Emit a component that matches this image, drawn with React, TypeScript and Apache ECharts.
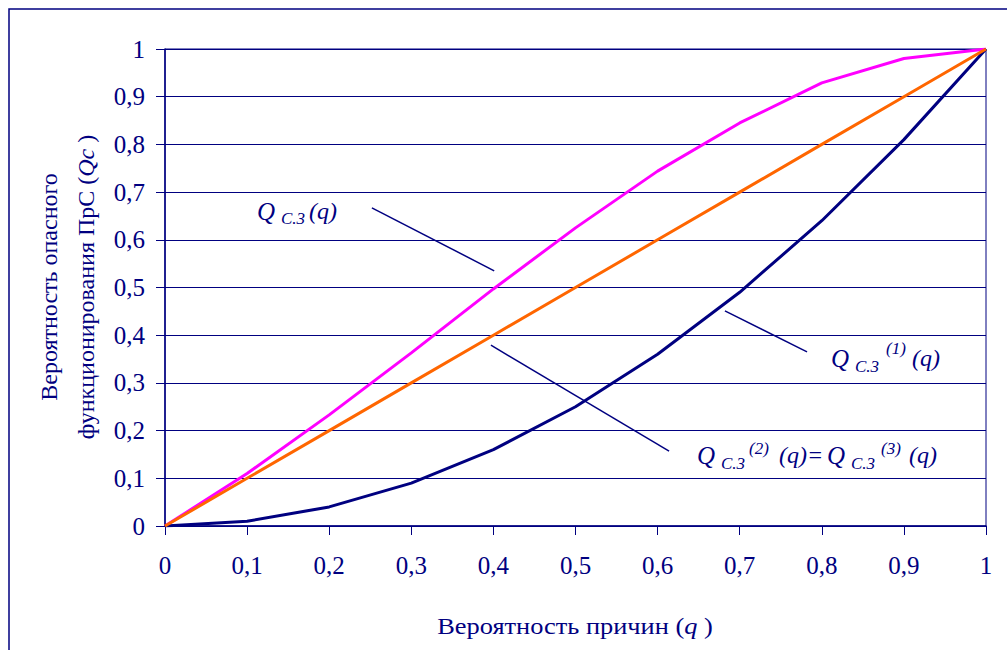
import React, { useEffect, useRef } from "react";
import * as echarts from "echarts";

const qValues = [0, 0.1, 0.2, 0.3, 0.4, 0.5, 0.6, 0.7, 0.8, 0.9, 1];
const tickLabels = ["0", "0,1", "0,2", "0,3", "0,4", "0,5", "0,6", "0,7", "0,8", "0,9", "1"];
const qc3 = [0, 0.11, 0.233, 0.363, 0.497, 0.625, 0.744, 0.845, 0.929, 0.98, 1];
const qc3_1 = [0, 0.01, 0.04, 0.09, 0.16, 0.25, 0.36, 0.49, 0.64, 0.81, 1];
const qc3_23 = [0, 0.1, 0.2, 0.3, 0.4, 0.5, 0.6, 0.7, 0.8, 0.9, 1];

// leader lines in data coordinates
const leaders: [number, number, number, number][] = [
  [0.252, 0.667, 0.401, 0.535],
  [0.682, 0.451, 0.782, 0.365],
  [0.397, 0.379, 0.614, 0.157],
];

const NAVY = "#000080";
const FONT = "Liberation Serif";

function piece(text: string, x: number, y: number, size: number) {
  return {
    type: "text",
    x,
    y,
    silent: true,
    style: {
      text,
      fontSize: size,
      fontFamily: FONT,
      fontStyle: "italic",
      fill: NAVY,
      align: "left",
      verticalAlign: "middle",
    },
  };
}

export default function App() {
  const ref = useRef<HTMLDivElement>(null);
  useEffect(() => {
    if (!ref.current) return;
    const chart = echarts.init(ref.current, undefined, { renderer: "svg" });
    const fmt = (v: number) => tickLabels[Math.round(v * 10)] ?? "";
    const pairs = (arr: number[]) => qValues.map((q, i) => [q, arr[i]]);
    chart.setOption({
      animation: false,
      backgroundColor: "#ffffff",
      textStyle: { fontFamily: FONT },
      grid: {
        left: 165,
        right: 21,
        top: 49,
        bottom: 124,
        show: true,
        borderColor: NAVY,
        borderWidth: 1,
        backgroundColor: "transparent",
      },
      xAxis: {
        type: "value",
        min: 0,
        max: 1,
        interval: 0.1,
        axisLine: { show: true, lineStyle: { color: NAVY, width: 1.5 } },
        axisTick: { show: true, inside: false, length: 9, lineStyle: { color: NAVY, width: 1 } },
        splitLine: { show: false },
        axisLabel: {
          formatter: fmt,
          color: NAVY,
          fontFamily: FONT,
          fontSize: 25,
          margin: 27,
        },
      },
      yAxis: {
        type: "value",
        min: 0,
        max: 1,
        interval: 0.1,
        axisLine: { show: true, lineStyle: { color: NAVY, width: 1.5 } },
        axisTick: { show: true, inside: false, length: 9, lineStyle: { color: NAVY, width: 1 } },
        splitLine: { show: true, lineStyle: { color: NAVY, width: 1 } },
        axisLabel: {
          formatter: fmt,
          color: NAVY,
          fontFamily: FONT,
          fontSize: 25,
          margin: 20,
        },
      },
      series: [
        {
          type: "line",
          data: pairs(qc3),
          symbol: "none",
          lineStyle: { color: "#FF00FF", width: 3 },
          z: 2,
        },
        {
          type: "line",
          data: pairs(qc3_1),
          symbol: "none",
          lineStyle: { color: NAVY, width: 3 },
          z: 3,
        },
        {
          type: "line",
          data: pairs(qc3_23),
          symbol: "none",
          lineStyle: { color: "#FF6600", width: 3 },
          z: 4,
          markLine: {
            silent: true,
            symbol: ["none", "none"],
            label: { show: false },
            lineStyle: { color: NAVY, width: 1.5, type: "solid" },
            data: leaders.map(([x1, y1, x2, y2]) => [
              { coord: [x1, y1] },
              { coord: [x2, y2] },
            ]),
          },
        },
      ],
      graphic: [
        {
          type: "rect",
          silent: true,
          shape: { x: 9, y: 9, width: 1200, height: 1000 },
          style: { fill: "none", stroke: NAVY, lineWidth: 1.5 },
        },
        // Label 1
        piece("Q", 257, 211, 25),
        piece("C.3", 281, 218.5, 17),
        piece("(q)", 309, 211, 24),
        // Label 2
        piece("Q", 831, 358, 25),
        piece("C.3", 855, 366.5, 17),
        piece("(1)", 886, 348, 17),
        piece("(q)", 912, 358, 24),
        // Label 3
        piece("Q", 697, 455, 25),
        piece("C.3", 721, 463.5, 17),
        piece("(2)", 749, 448, 17),
        piece("(q)=", 779, 455, 24),
        piece("Q", 827, 455, 25),
        piece("C.3", 851, 463.5, 17),
        piece("(3)", 881, 448, 17),
        piece("(q)", 909, 455, 24),
        // y axis name
        {
          type: "text",
          x: 67,
          y: 287,
          rotation: Math.PI / 2,
          silent: true,
          style: {
            text: "Вероятность опасного\nфункционирования ПрС ({i|Qc} )",
            fontSize: 24,
            fontFamily: FONT,
            fill: NAVY,
            align: "center",
            verticalAlign: "middle",
            lineHeight: 37,
            rich: {
              i: { fontSize: 24, fontFamily: FONT, fontStyle: "italic", fill: NAVY, lineHeight: 37 },
            },
          },
        },
        // x axis name
        {
          type: "text",
          x: 575,
          y: 626,
          silent: true,
          scaleX: 1.1,
          style: {
            text: "Вероятность причин ({i|q} )",
            fontSize: 24,
            fontFamily: FONT,
            fill: NAVY,
            align: "center",
            verticalAlign: "middle",
            rich: {
              i: { fontSize: 24, fontFamily: FONT, fontStyle: "italic", fill: NAVY },
            },
          },
        },
      ],
    });
    return () => chart.dispose();
  }, []);
  return (
    <div
      ref={ref}
      style={{ position: "fixed", left: 0, top: 0, width: 1007, height: 650, background: "#fff" }}
    />
  );
}
